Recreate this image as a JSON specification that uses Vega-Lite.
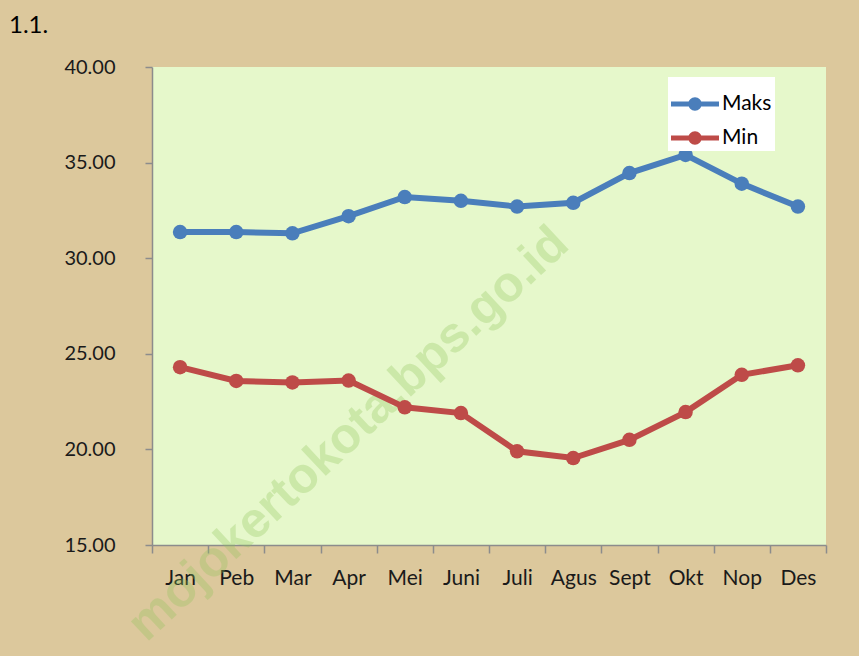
{
  "$schema": "https://vega.github.io/schema/vega-lite/v6.json",
  "width": 674,
  "height": 478,
  "autosize": "none",
  "padding": {"left": 152, "top": 67, "right": 33, "bottom": 111},
  "background": "#dcc89c",
  "title": {"text": "1.1.", "anchor": "start", "frame": "group", "dx": -143, "offset": 19, "fontSize": 24, "font": "Lato", "fontWeight": "normal", "color": "#000000"},
  "config": {"view": {"fill": "#e6f8cb", "stroke": null}, "font": "Lato"},
  "data": {
    "values": [
      {"month": "Jan", "series": "Maks", "value": 31.37},
      {"month": "Peb", "series": "Maks", "value": 31.37},
      {"month": "Mar", "series": "Maks", "value": 31.3},
      {"month": "Apr", "series": "Maks", "value": 32.2},
      {"month": "Mei", "series": "Maks", "value": 33.2},
      {"month": "Juni", "series": "Maks", "value": 33.0},
      {"month": "Juli", "series": "Maks", "value": 32.7},
      {"month": "Agus", "series": "Maks", "value": 32.9},
      {"month": "Sept", "series": "Maks", "value": 34.45},
      {"month": "Okt", "series": "Maks", "value": 35.4},
      {"month": "Nop", "series": "Maks", "value": 33.9},
      {"month": "Des", "series": "Maks", "value": 32.7},
      {"month": "Jan", "series": "Min", "value": 24.3},
      {"month": "Peb", "series": "Min", "value": 23.58},
      {"month": "Mar", "series": "Min", "value": 23.5},
      {"month": "Apr", "series": "Min", "value": 23.6},
      {"month": "Mei", "series": "Min", "value": 22.2},
      {"month": "Juni", "series": "Min", "value": 21.9},
      {"month": "Juli", "series": "Min", "value": 19.9},
      {"month": "Agus", "series": "Min", "value": 19.55},
      {"month": "Sept", "series": "Min", "value": 20.5},
      {"month": "Okt", "series": "Min", "value": 21.95},
      {"month": "Nop", "series": "Min", "value": 23.9},
      {"month": "Des", "series": "Min", "value": 24.4}
    ]
  },
  "layer": [
    {
      "data": {"values": [{"t": "mojokertokota.bps.go.id"}]},
      "mark": {"type": "text", "angle": -43, "fontSize": 50, "fontWeight": "bold", "font": "Liberation Sans", "color": "#8fc45a", "opacity": 0.3, "align": "center", "baseline": "middle"},
      "encoding": {
        "text": {"field": "t"},
        "x": {"datum": "Apr", "bandPosition": 0.5},
        "y": {"datum": 20.8, "type": "quantitative", "scale": {"domain": [15, 40], "zero": false}}
      }
    },
    {
      "mark": {"type": "line", "strokeWidth": 6, "point": {"filled": true, "size": 210, "opacity": 1}},
      "encoding": {
        "x": {
          "field": "month", "type": "nominal", "bandPosition": 0.5,
          "scale": {"type": "band", "domain": ["Jan", "Peb", "Mar", "Apr", "Mei", "Juni", "Juli", "Agus", "Sept", "Okt", "Nop", "Des"], "paddingInner": 0, "paddingOuter": 0},
          "axis": {"title": null, "labelAngle": 0, "labelAlign": "center", "labelOffset": 0, "labelFontSize": 21, "labelColor": "#1a1a1a", "labelPadding": 25, "tickSize": 8, "tickBand": "extent", "tickColor": "#8c8c8c", "tickWidth": 1.5, "domainColor": "#8c8c8c", "domainWidth": 1.5, "grid": false}
        },
        "y": {
          "field": "value", "type": "quantitative",
          "scale": {"domain": [15, 40], "zero": false},
          "axis": {"title": null, "values": [15, 20, 25, 30, 35, 40], "format": ".2f", "labelFontSize": 20, "labelColor": "#1a1a1a", "labelPadding": 30, "tickSize": 7, "tickColor": "#8c8c8c", "tickWidth": 1.5, "domainColor": "#8c8c8c", "domainWidth": 1.5, "gridColor": "#8c8c8c", "gridWidth": 1.5}
        },
        "color": {
          "field": "series", "type": "nominal",
          "scale": {"domain": ["Maks", "Min"], "range": ["#4a7ebb", "#be4b48"]},
          "legend": {
            "title": null, "orient": "none", "legendX": 516, "legendY": 10,
            "fillColor": "#ffffff", "padding": 3, "labelFontSize": 21, "labelColor": "#000000", "labelOffset": 3,
            "symbolType": "M-1,-0.1H1V0.1H-1Z M-0.28,0A0.28,0.28 0 1,1 0.28,0A0.28,0.28 0 1,1 -0.28,0Z",
            "symbolSize": 2304, "symbolStrokeWidth": 0, "rowPadding": 0,
            "encode": {"symbols": {"update": {"fill": {"scale": "color", "field": "value"}, "opacity": {"value": 1}}}}
          }
        }
      }
    }
  ]
}
